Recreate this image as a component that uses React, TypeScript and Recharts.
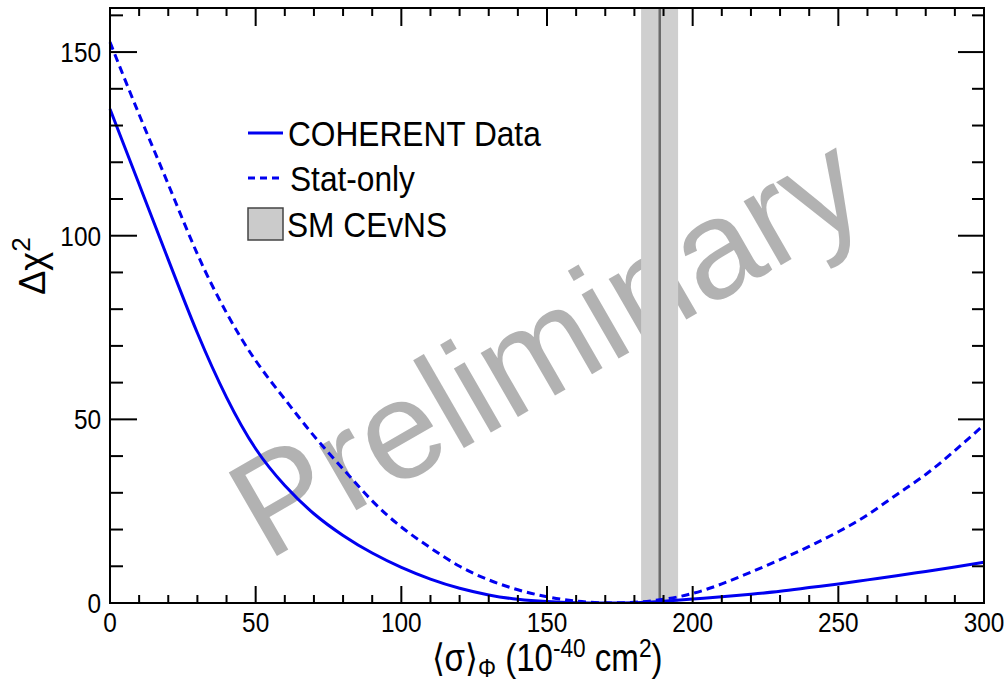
import React from 'react';
import { LineChart, Line, XAxis, YAxis, ReferenceArea, ReferenceLine, Customized } from 'recharts';

// <sigma>_Phi scan points (10^-40 cm^2)
const sigma = [0, 10, 20, 30, 40, 50, 60, 70, 80, 90, 100, 110, 120, 130, 140, 150, 160, 170, 180, 190, 200, 210, 220, 230, 240, 250, 260, 270, 280, 290, 300];
// delta chi2, full fit with systematics
const coherentChi2 = [134.5, 114, 93.5, 73.5, 56, 42, 32, 24.3, 18.4, 13.6, 9.7, 6.5, 4.0, 2.2, 1.0, 0.4, 0.1, 0, 0.1, 0.5, 1.1, 1.7, 2.4, 3.2, 4.2, 5.2, 6.3, 7.4, 8.6, 9.8, 11.1];
// delta chi2, statistical errors only
const statOnlyChi2 = [152.7, 133, 114, 95, 79, 66, 55.5, 45.5, 36.5, 27.8, 20.7, 15, 10, 6.3, 3.6, 1.7, 0.5, 0.05, 0.2, 1.0, 2.6, 5.2, 8.4, 11.8, 15.4, 19.4, 24, 29.5, 35, 41.5, 48.5];

// SM CEvNS prediction: band and central value
const smBand = [182.3, 195.0];
const smCentral = 188.7;

const xTicks = [0, 10, 20, 30, 40, 50, 60, 70, 80, 90, 100, 110, 120, 130, 140, 150, 160, 170, 180, 190, 200, 210, 220, 230, 240, 250, 260, 270, 280, 290, 300];
const yTicks = [0, 10, 20, 30, 40, 50, 60, 70, 80, 90, 100, 110, 120, 130, 140, 150, 160];

const data = sigma.map((x, i) => ({ x, coherent: coherentChi2[i], stat: statOnlyChi2[i] }));

const FONT = "'Liberation Sans', Arial, Helvetica, sans-serif";
const SQ = 0.87; // narrow the glyphs a bit, Helvetica-ish look
const BLUE = '#0000f0';

const BottomTick = (props: any) => {
  const { x, y, payload } = props;
  const major = payload.value % 50 === 0;
  return (
    <g>
      <line x1={x} y1={y} x2={x} y2={y - (major ? 17 : 8)} stroke="#000" strokeWidth={2} />
      {major && (
        <text transform={`translate(${x},${y + 29}) scale(${SQ},1)`} textAnchor="middle" fontSize={28} fontFamily={FONT} fill="#000">
          {payload.value}
        </text>
      )}
    </g>
  );
};

const TopTick = (props: any) => {
  const { x, y, payload } = props;
  const major = payload.value % 50 === 0;
  return <line x1={x} y1={y} x2={x} y2={y + (major ? 18 : 8)} stroke="#000" strokeWidth={2} />;
};

const LeftTick = (props: any) => {
  const { x, y, payload } = props;
  const major = payload.value % 50 === 0;
  return (
    <g>
      <line x1={x} y1={y} x2={x + (major ? 27 : 13)} y2={y} stroke="#000" strokeWidth={2} />
      {major && (
        <text transform={`translate(${x - 9},${y + 10}) scale(${SQ},1)`} textAnchor="end" fontSize={28} fontFamily={FONT} fill="#000">
          {payload.value}
        </text>
      )}
    </g>
  );
};

const RightTick = (props: any) => {
  const { x, y, payload } = props;
  const major = payload.value % 50 === 0;
  return <line x1={x} y1={y} x2={x - (major ? 26 : 12)} y2={y} stroke="#000" strokeWidth={2} />;
};

const Watermark = () => (
  <text
    transform="translate(545,343) rotate(-30)"
    textAnchor="middle"
    dy="0.36em"
    fontSize={140}
    fontFamily={FONT}
    fill="#7f7f7f"
    fillOpacity={0.6}
  >
    Preliminary
  </text>
);

const Decorations = () => (
  <g fontFamily={FONT} fill="#000">
    {/* legend */}
    <line x1={248} x2={283} y1={133} y2={133} stroke={BLUE} strokeWidth={3} />
    <text transform={`translate(288,146) scale(0.88,1)`} fontSize={36}>COHERENT Data</text>
    <line x1={248} x2={281} y1={178} y2={178} stroke={BLUE} strokeWidth={3} strokeDasharray="7 5" />
    <text transform={`translate(290,191) scale(0.88,1)`} fontSize={36}>Stat-only</text>
    <rect x={248} y={208} width={35} height={32} fill="#cbcbcb" stroke="#444" strokeWidth={1.5} />
    <text transform={`translate(287,237) scale(0.88,1)`} fontSize={36}>SM CEvNS</text>

    {/* axis titles */}
    <text transform={`translate(547,671) scale(${SQ},1)`} textAnchor="middle" fontSize={38}>
      ⟨σ⟩
      <tspan dy={6} fontSize={26}>Φ</tspan>
      <tspan dy={-6}> (10</tspan>
      <tspan dy={-14} fontSize={26}>-40</tspan>
      <tspan dy={14}> cm</tspan>
      <tspan dy={-14} fontSize={26}>2</tspan>
      <tspan dy={14}>)</tspan>
    </text>
    <text transform="translate(45,266) rotate(-90)" textAnchor="middle" fontSize={36}>
      Δχ
      <tspan dy={-15} fontSize={26}>2</tspan>
    </text>
  </g>
);

const frame = { stroke: '#000', strokeWidth: 2 };

export default function App() {
  return (
    <div style={{ position: 'absolute', left: 0, top: 0, background: '#fff' }}>
      <LineChart width={1008} height={684} data={data} margin={{ top: 7, right: 23, bottom: 51, left: 50 }}>
        <XAxis dataKey="x" type="number" domain={[0, 300]} ticks={xTicks} interval={0} tickLine={false} tickSize={0} tickMargin={0} axisLine={frame} height={30} tick={<BottomTick />} />
        <XAxis xAxisId="top" orientation="top" dataKey="x" type="number" domain={[0, 300]} ticks={xTicks} interval={0} tickLine={false} tickSize={0} tickMargin={0} axisLine={frame} height={1} tick={<TopTick />} />
        <YAxis type="number" domain={[0, 162]} ticks={yTicks} interval={0} tickLine={false} tickSize={0} tickMargin={0} axisLine={frame} width={60} allowDataOverflow tick={<LeftTick />} />
        <YAxis yAxisId="right" orientation="right" type="number" domain={[0, 162]} ticks={yTicks} interval={0} tickLine={false} tickSize={0} tickMargin={0} axisLine={frame} width={1} allowDataOverflow tick={<RightTick />} />

        <ReferenceArea x1={smBand[0]} x2={smBand[1]} fill="#cfcfcf" fillOpacity={1} stroke="none" />
        <ReferenceLine x={smCentral} stroke="#6a6a6a" strokeWidth={2.5} />
        <ReferenceArea x1={0} x2={300} y1={0} y2={162} fill="none" stroke="#000" strokeWidth={2} ifOverflow="visible" />
        <Customized component={Watermark} />

        <Line type="natural" dataKey="coherent" stroke={BLUE} strokeWidth={3} dot={false} isAnimationActive={false} />
        <Line type="natural" dataKey="stat" stroke={BLUE} strokeWidth={3} strokeDasharray="8 5" dot={false} isAnimationActive={false} />

        <Customized component={Decorations} />
      </LineChart>
    </div>
  );
}
